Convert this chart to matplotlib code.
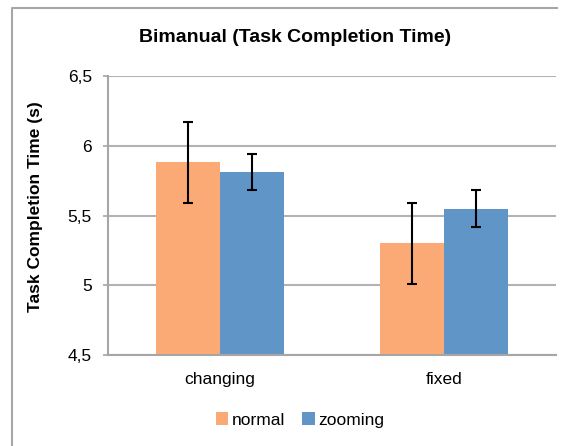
import matplotlib.pyplot as plt
import numpy as np
from matplotlib.lines import Line2D

categories = ["changing", "fixed"]
series_names = ["normal", "zooming"]
normal_means = [5.88, 5.30]
normal_err = [0.29, 0.29]
zooming_means = [5.81, 5.55]
zooming_err = [0.13, 0.13]
y_ticks = [4.5, 5.0, 5.5, 6.0, 6.5]
y_tick_labels = ["4,5", "5", "5,5", "6", "6,5"]

plt.rcParams["font.family"] = ["Liberation Sans", "DejaVu Sans"]

W, H = 566, 446
fig = plt.figure(figsize=(W / 100, H / 100), dpi=100)
ax = fig.add_axes([108 / W, 1 - 355 / H, 448 / W, 279 / H])

x = np.arange(len(categories))
bw = 64 / 224
colors = ["#fcaa75", "#6095c8"]

for i, (means, errs) in enumerate([(normal_means, normal_err), (zooming_means, zooming_err)]):
    pos = x + (i - 0.5) * bw
    ax.bar(pos, np.array(means) - 4.5, bw, bottom=4.5, color=colors[i],
           label=series_names[i], zorder=2)
    ax.errorbar(pos, means, yerr=errs, fmt="none", ecolor="black",
                elinewidth=1.5, capsize=3.6, capthick=1.5, zorder=3)

ax.set_xlim(-0.5, 1.5)
ax.set_ylim(4.5, 6.5)
ax.set_yticks(y_ticks)
ax.set_yticklabels(y_tick_labels)
ax.set_xticks(x)
ax.set_xticklabels(categories)
ax.tick_params(axis="y", length=3.6, width=1.2, color="#a6a6a6", pad=8,
               labelsize=12.5)
ax.tick_params(axis="x", length=0, pad=12, labelsize=12.5)
ax.yaxis.grid(True, color="#b3b3b3", linewidth=1.5)
ax.set_axisbelow(True)
for side in ["top", "right"]:
    ax.spines[side].set_visible(False)
for side in ["left", "bottom"]:
    ax.spines[side].set_color("#a6a6a6")
    ax.spines[side].set_linewidth(1.5)

fig.text(295 / W, 1 - 38 / H, "Bimanual (Task Completion Time)",
         ha="center", va="center", fontsize=14, fontweight="bold")
fig.text(36 / W, 1 - 207 / H, "Task Completion Time (s)", rotation=90,
         ha="center", va="center", fontsize=12.5, fontweight="bold")

fig.legend(loc="center", bbox_to_anchor=(300 / W, 1 - 420 / H), ncol=2,
           frameon=False, fontsize=12.5, handlelength=0.7, handleheight=0.7,
           handletextpad=0.2, columnspacing=1.0)

# chart-area frame (only left and top edges fall inside the picture)
fig.add_artist(Line2D([12 / W, 12 / W, 557 / W], [0, 1 - 8 / H, 1 - 8 / H],
                      transform=fig.transFigure, color="#a6a6a6", linewidth=1.5))

fig.savefig("out.png", dpi=100)
